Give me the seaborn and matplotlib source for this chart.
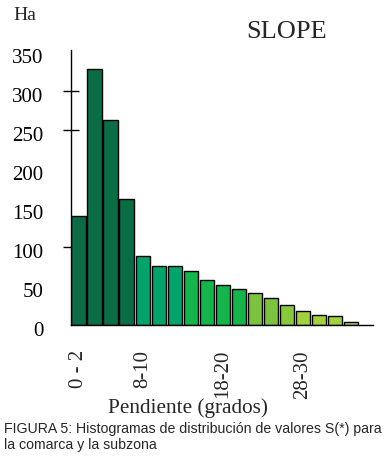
import matplotlib
matplotlib.use("Agg")
import matplotlib.pyplot as plt
import matplotlib.transforms as mtransforms
import seaborn as sns
import pandas as pd

# slope classes (2 degree bins) and area in Ha
classes = ["0-2", "2-4", "4-6", "6-8", "8-10", "10-12", "12-14", "14-16", "16-18",
           "18-20", "20-22", "22-24", "24-26", "26-28", "28-30", "30-32", "32-34", "34-36"]
hectares = [140, 328, 262, 161, 88, 75, 75, 69, 57, 51, 46, 41, 34, 26, 18, 13, 11.5, 4]
bar_colors = ["#0b6d45", "#0b6d45", "#0b6d45", "#0b6d45",
              "#03a46b", "#03a46b", "#03a46b",
              "#14b64c", "#14b64c", "#14b64c", "#14b64c",
              "#7cc340", "#7cc340", "#88c83b",
              "#a3d13d", "#a3d13d", "#a3d13d", "#b6d56c"]
yticks = [0, 50, 100, 150, 200, 250, 300, 350]
marked_ticks = [100, 250, 300]
xtick_pos = [0, 4, 9, 14]
xtick_labels = ["0 - 2", "8-10", "18-20", "28-30"]

df = pd.DataFrame({"clase": classes, "ha": hectares})

sns.set_style("white", {"ytick.left": True, "ytick.color": "black"})
serif = ["Liberation Serif", "DejaVu Serif"]

fig = plt.figure(figsize=(3.85, 4.67), dpi=100)
ax = fig.add_axes([0.1844, 0.304, 0.7846, 0.589])

sns.barplot(data=df, x="clase", y="ha", hue="clase", palette=bar_colors,
            legend=False, width=0.88, edgecolor="black", linewidth=1,
            saturation=1, ax=ax)

ax.set_xlim(-0.47, 18.4)
ax.set_ylim(0, 352)
ax.set_xlabel("")
ax.set_ylabel("")

ax.set_yticks(yticks)
ax.set_yticklabels([str(v) for v in yticks], fontfamily=serif, fontsize=15)
# only a few tick marks are drawn in the original, on top of labelled ticks
ax.yaxis.remove_overlapping_locs = False
ax.set_yticks(marked_ticks, minor=True)
ax.tick_params(axis="y", which="major", length=0, pad=20)
ax.tick_params(axis="y", which="minor", direction="inout", length=12, width=1,
               color="black", left=True)
# labels in the original sit a little below their ticks
shift = mtransforms.ScaledTranslation(0, -4 / 100, fig.dpi_scale_trans)
for lab in ax.get_yticklabels():
    lab.set_transform(lab.get_transform() + shift)

ax.set_xticks(xtick_pos)
ax.set_xticklabels(xtick_labels, rotation=90, fontfamily=serif, fontsize=15, va="top")
ax.tick_params(axis="x", length=0, pad=18)

for side in ["top", "right"]:
    ax.spines[side].set_visible(False)
for side in ["left", "bottom"]:
    ax.spines[side].set_color("black")
    ax.spines[side].set_linewidth(1)

fig.text(13 / 385, 1 - 20 / 467, "Ha", fontfamily=serif, fontsize=14, va="baseline")
fig.text(287 / 385, 1 - 38 / 467, "SLOPE", fontfamily=serif, fontsize=19, ha="center", va="baseline")
fig.text(188 / 385, 1 - 413 / 467, "Pendiente (grados)", fontfamily=serif, fontsize=15.3,
         ha="center", va="baseline")
fig.text(4 / 385, 1 - 449 / 467,
         "FIGURA 5: Histogramas de distribución de valores S(*) para\nla comarca y la subzona",
         fontfamily=["Liberation Sans", "DejaVu Sans"], fontsize=10.2, va="baseline",
         linespacing=1.2)

plt.savefig("out.png", dpi=100)
